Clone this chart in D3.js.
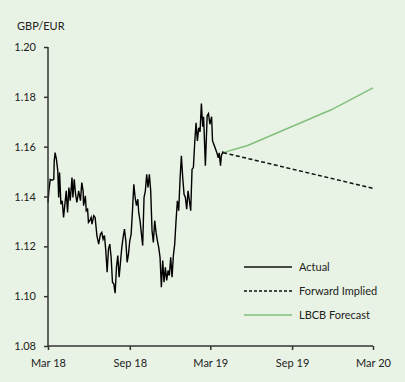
<!DOCTYPE html>
<html>
<head>
<meta charset="utf-8">
<script src="https://cdn.jsdelivr.net/npm/d3@7"></script>
<style>
  html, body { margin: 0; padding: 0; background: #e9f3e5; }
  svg { display: block; }
</style>
</head>
<body>
<div class="root"></div>
<script>
// Actual GBP/EUR
var actualDates = [
  "2018-03-01","2018-03-03","2018-03-06","2018-03-10","2018-03-14","2018-03-15","2018-03-17","2018-03-20",
  "2018-03-23","2018-03-25","2018-03-27","2018-03-30","2018-04-02","2018-04-05","2018-04-08","2018-04-11",
  "2018-04-14","2018-04-17","2018-04-20","2018-04-24","2018-04-26","2018-04-29","2018-05-02","2018-05-05",
  "2018-05-09","2018-05-13","2018-05-16","2018-05-19","2018-05-20","2018-05-24","2018-05-26","2018-05-29",
  "2018-05-31","2018-06-03","2018-06-06","2018-06-08","2018-06-12","2018-06-15","2018-06-19","2018-06-23",
  "2018-06-27","2018-06-30","2018-07-03","2018-07-06","2018-07-09","2018-07-12","2018-07-15","2018-07-18",
  "2018-07-21","2018-07-24","2018-07-27","2018-07-30","2018-08-02","2018-08-05","2018-08-08","2018-08-11",
  "2018-08-14","2018-08-17","2018-08-20","2018-08-23","2018-08-26","2018-08-29","2018-09-01","2018-09-04",
  "2018-09-07","2018-09-10","2018-09-13","2018-09-16","2018-09-19","2018-09-21","2018-09-24","2018-09-28",
  "2018-09-30","2018-10-03","2018-10-06","2018-10-09","2018-10-12","2018-10-15","2018-10-18","2018-10-21",
  "2018-10-24","2018-10-27","2018-10-30","2018-11-02","2018-11-05","2018-11-08","2018-11-11","2018-11-14",
  "2018-11-17","2018-11-20","2018-11-23","2018-11-26","2018-11-29","2018-12-02","2018-12-05","2018-12-08",
  "2018-12-11","2018-12-14","2018-12-17","2018-12-20","2018-12-23","2018-12-26","2018-12-29","2019-01-01",
  "2019-01-04","2019-01-07","2019-01-10","2019-01-13","2019-01-16","2019-01-19","2019-01-22","2019-01-25",
  "2019-01-28","2019-01-31","2019-02-03","2019-02-06","2019-02-09","2019-02-12","2019-02-14","2019-02-18",
  "2019-02-22","2019-02-25","2019-02-28","2019-03-04","2019-03-06","2019-03-11","2019-03-15","2019-03-19",
  "2019-03-21","2019-03-24","2019-03-26","2019-03-30"
];
var actualValues = [
  1.1376,1.1423,1.1469,1.1465,1.1469,1.1543,1.1576,1.1549,
  1.1503,1.1396,1.1496,1.1369,1.1383,1.1316,1.1369,1.1423,
  1.1336,1.1436,1.1383,1.1476,1.1396,1.1469,1.1409,1.1376,
  1.1423,1.1383,1.1456,1.1423,1.1363,1.1403,1.1343,1.1349,
  1.1296,1.1303,1.1316,1.1289,1.1323,1.1316,1.1243,1.1209,
  1.1249,1.1256,1.1229,1.1243,1.1183,1.1096,1.1189,1.1209,
  1.1156,1.1056,1.1049,1.1012,1.1116,1.1163,1.1076,1.1136,
  1.1196,1.1236,1.1269,1.1223,1.1136,1.1169,1.1223,1.1249,
  1.1343,1.1449,1.1396,1.1363,1.1389,1.1336,1.1303,1.1236,
  1.1203,1.1396,1.1423,1.1489,1.1436,1.1489,1.1423,1.1263,
  1.1216,1.1303,1.1256,1.1223,1.1196,1.1156,1.1036,1.1143,
  1.1056,1.1116,1.1063,1.1103,1.1083,1.1156,1.1076,1.1163,
  1.1209,1.1303,1.1383,1.1343,1.1469,1.1563,1.1476,1.1409,
  1.1396,1.1349,1.1423,1.1383,1.1343,1.1509,1.1516,1.1616,
  1.1696,1.1623,1.1676,1.1660,1.1773,1.1680,1.1720,1.1524,
  1.1724,1.1733,1.1690,1.1720,1.1624,1.1600,1.1580,1.1555,
  1.1575,1.1524,1.1565,1.1581
];

// Forward implied and LBCB forecast
var forwardDates = ["2019-03-30", "2020-03-01"];
var forwardValues = [1.1576, 1.1433];
var forecastDates = ["2019-03-30", "2019-05-24", "2019-11-28", "2020-03-01"];
var forecastValues = [1.1576, 1.1605, 1.1748, 1.1836];

// Axis ticks
var yTicks = [1.08, 1.10, 1.12, 1.14, 1.16, 1.18, 1.20];
var xTickDates = ["2018-03-01", "2018-09-01", "2019-03-01", "2019-09-01", "2020-03-01"];
var xTickLabels = ["Mar 18", "Sep 18", "Mar 19", "Sep 19", "Mar 20"];

var legendNames = ["Actual", "Forward Implied", "LBCB Forecast"];

var parseDate = d3.timeParse("%Y-%m-%d");
var font = "Lato, 'DejaVu Sans', sans-serif";
var green = "#80c07c";

var margin = { top: 47, right: 32, bottom: 36, left: 48 },
    width = 405 - margin.left - margin.right,
    height = 382 - margin.top - margin.bottom;

var xScale = d3.scaleTime()
    .domain([parseDate("2018-03-01"), parseDate("2020-03-01")])
    .range([0, width]);
var yScale = d3.scaleLinear().domain([1.08, 1.20]).range([height, 0]);

var svg = d3.select(".root").append("svg")
    .attr("width", 405)
    .attr("height", 382);

svg.append("rect")
    .attr("width", 405).attr("height", 382)
    .attr("fill", "#e9f3e5");

var g = svg.append("g")
    .attr("transform", "translate(" + margin.left + "," + margin.top + ")");

function series(dates, values) {
  return dates.map(function (d, i) { return { date: parseDate(d), value: values[i] }; });
}

var line = d3.line()
    .x(function (d) { return xScale(d.date); })
    .y(function (d) { return yScale(d.value); });

// Lines
g.append("path").datum(series(forecastDates, forecastValues))
    .attr("fill", "none")
    .attr("stroke", green)
    .attr("stroke-width", 1.5)
    .attr("d", line);

g.append("path").datum(series(forwardDates, forwardValues))
    .attr("fill", "none")
    .attr("stroke", "#111")
    .attr("stroke-width", 1.5)
    .attr("stroke-dasharray", "4,2.5")
    .attr("d", line);

g.append("path").datum(series(actualDates, actualValues))
    .attr("fill", "none")
    .attr("stroke", "#000")
    .attr("stroke-width", 1.4)
    .attr("stroke-linejoin", "miter")
    .attr("d", line);

// Y axis
var yAxis = g.append("g")
    .call(d3.axisLeft(yScale)
        .tickValues(yTicks)
        .tickSize(4)
        .tickPadding(8)
        .tickFormat(d3.format(".2f")));
yAxis.select(".domain").attr("stroke", "#333").attr("stroke-width", 1.5).attr("d", "M0," + height + "V0");
yAxis.selectAll(".tick line").attr("stroke", "#333").attr("stroke-width", 1.5);
yAxis.selectAll("text").attr("font-family", font).attr("font-size", 11).attr("fill", "#222");

// X axis
var xAxis = g.append("g")
    .attr("transform", "translate(0," + height + ")")
    .call(d3.axisBottom(xScale)
        .tickValues(xTickDates.map(parseDate))
        .tickSize(4)
        .tickPadding(9)
        .tickFormat(function (d, i) { return xTickLabels[i]; }));
xAxis.select(".domain").attr("stroke", "#333").attr("stroke-width", 1.5).attr("d", "M0,0H" + width);
xAxis.selectAll(".tick line").attr("stroke", "#333").attr("stroke-width", 1.5);
xAxis.selectAll("text").attr("font-family", font).attr("font-size", 11).attr("fill", "#222");

// Unit label
svg.append("text")
    .attr("x", 17)
    .attr("y", 30)
    .attr("font-family", font)
    .attr("font-size", 11)
    .attr("fill", "#222")
    .text("GBP/EUR");

// Legend
var legend = svg.append("g").attr("transform", "translate(244,267)");
var legendRows = legend.selectAll("g").data(legendNames).enter().append("g")
    .attr("transform", function (d, i) { return "translate(0," + (i * 24) + ")"; });
legendRows.append("line")
    .attr("x1", 0).attr("x2", 48).attr("y1", 0).attr("y2", 0)
    .attr("stroke", function (d, i) { return i === 2 ? green : "#111"; })
    .attr("stroke-width", 1.5)
    .attr("stroke-dasharray", function (d, i) { return i === 1 ? "3,2" : null; });
legendRows.append("text")
    .attr("x", 55)
    .attr("y", 4)
    .attr("font-family", font)
    .attr("font-size", 11)
    .attr("fill", "#222")
    .text(function (d) { return d; });
</script>
</body>
</html>
